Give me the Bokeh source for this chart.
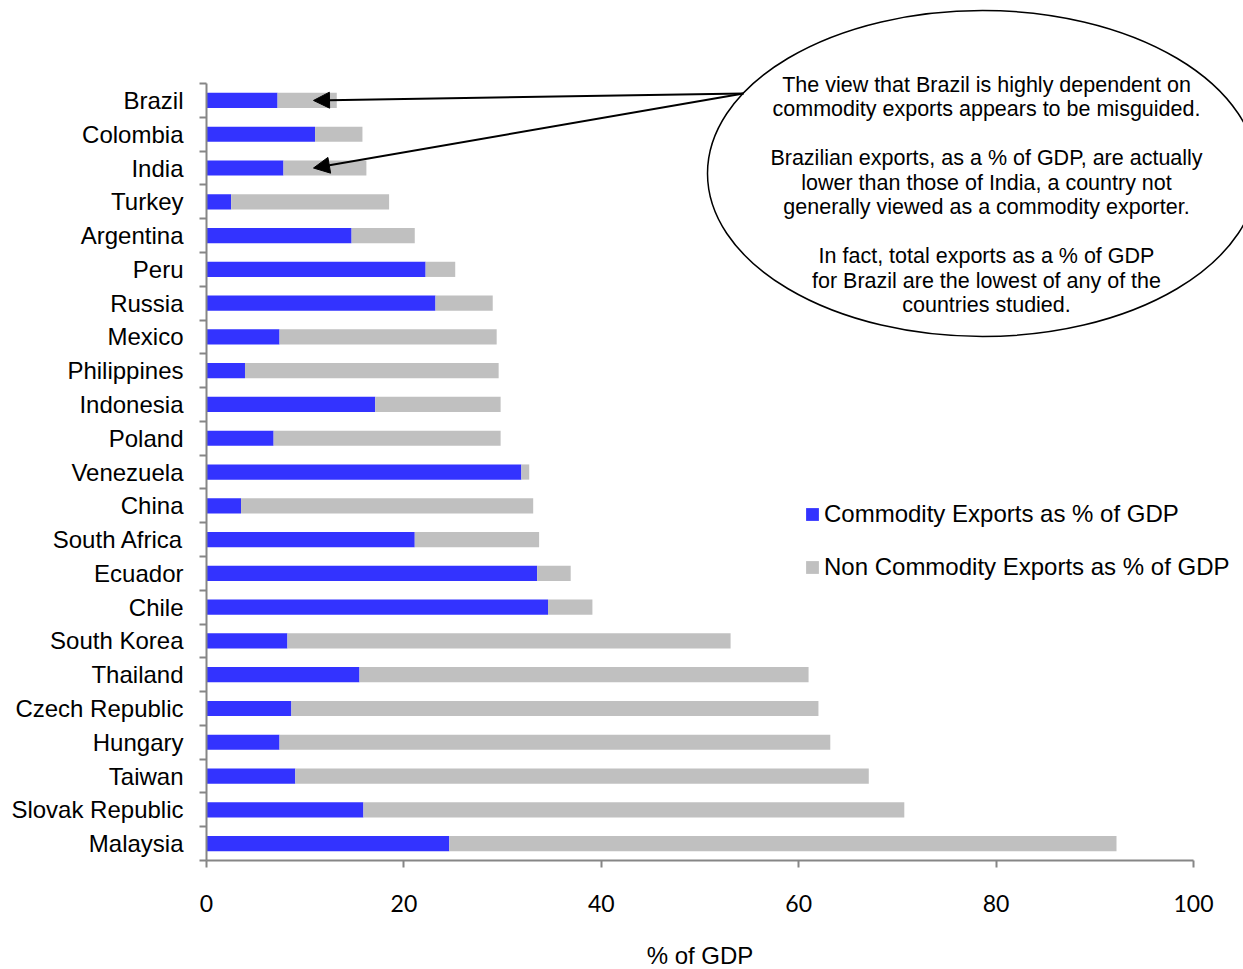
from bokeh.plotting import figure
from bokeh.layouts import column
from bokeh.models import (Range1d, LinearAxis, FixedTicker, Legend, LegendItem,
                          Arrow, NormalHead, ColumnDataSource)
from bokeh.core.properties import value
from bokeh.embed import file_html
from bokeh.resources import INLINE

# ---- data: exports as % of GDP ----
countries = ["Brazil", "Colombia", "India", "Turkey", "Argentina", "Peru", "Russia",
             "Mexico", "Philippines", "Indonesia", "Poland", "Venezuela", "China",
             "South Africa", "Ecuador", "Chile", "South Korea", "Thailand",
             "Czech Republic", "Hungary", "Taiwan", "Slovak Republic", "Malaysia"]
commodity = [7.2, 11.0, 7.8, 2.5, 14.7, 22.2, 23.2, 7.4, 3.9, 17.1, 6.8, 31.9, 3.5,
             21.1, 33.5, 34.6, 8.2, 15.5, 8.6, 7.4, 9.0, 15.9, 24.6]
non_commodity = [6.0, 4.8, 8.4, 16.0, 6.4, 3.0, 5.8, 22.0, 25.7, 12.7, 23.0, 0.8, 29.6,
                 12.6, 3.4, 4.5, 44.9, 45.5, 53.4, 55.8, 58.1, 54.8, 67.6]
x_ticks = [0, 20, 40, 60, 80, 100]

series_names = ["Commodity Exports as % of GDP", "Non Commodity Exports as % of GDP"]
x_title = "% of GDP"
note_lines = [
    "The view that Brazil is highly dependent on",
    "commodity exports appears to be misguided.",
    "",
    "Brazilian exports, as a % of GDP, are actually",
    "lower than those of India, a country not",
    "generally viewed as a commodity exporter.",
    "",
    "In fact, total exports as a % of GDP",
    "for Brazil are the lowest of any of the",
    "countries studied.",
]

# ---- layout (pixels) ----
W, H = 1243, 969
MAIN_H = 930                         # chart panel; a thin strip below holds the x title
LEFT = 206
FRAME_H = 860                        # frame spans canvas top down to the x axis
ROW_PX = 33.78                       # height of one category row
PX_PER_UNIT = 9.87                   # horizontal px per % of GDP
n = len(countries)

x_end = (W - LEFT) / PX_PER_UNIT
y_top = (n - 0.5) - FRAME_H / ROW_PX

BLUE = "#3333FF"
GREY = "#C0C0C0"
AXIS = "#868686"
FONT = "Liberation Sans"

idx = list(range(n))
totals = [c + nc for c, nc in zip(commodity, non_commodity)]
src = ColumnDataSource(dict(y=idx, commodity=commodity, total=totals))

x_range = Range1d(0, x_end)
p = figure(width=W, height=MAIN_H, x_range=x_range,
           y_range=Range1d(start=n - 0.5, end=y_top),
           x_axis_type=None, y_axis_type=None,
           toolbar_location=None, output_backend="svg",
           min_border_left=LEFT, min_border_right=0, min_border_top=0,
           min_border_bottom=MAIN_H - FRAME_H)
p.outline_line_color = None


def px_x(px):
    return (px - LEFT) / PX_PER_UNIT


def px_y(py):
    return (py - (FRAME_H - n * ROW_PX)) / ROW_PX - 0.5


BAR_H = 0.45
r_comm = p.hbar(y="y", left=0, right="commodity", height=BAR_H, source=src,
                fill_color=BLUE, line_color=None)
r_non = p.hbar(y="y", left="commodity", right="total", height=BAR_H, source=src,
               fill_color=GREY, line_color=None)

# ---- axes ----
yaxis = LinearAxis(ticker=FixedTicker(ticks=idx, minor_ticks=[i - 0.5 for i in range(n + 1)]),
                   bounds=(-0.5, n - 0.5),
                   major_label_overrides={i: c for i, c in enumerate(countries)})
yaxis.axis_line_color = AXIS
yaxis.axis_line_width = 2
yaxis.major_tick_line_color = None
yaxis.major_tick_out = 0
yaxis.major_tick_in = 0
yaxis.minor_tick_line_color = AXIS
yaxis.minor_tick_line_width = 2
yaxis.minor_tick_out = 7
yaxis.minor_tick_in = 0
yaxis.major_label_standoff = 16
yaxis.major_label_text_font = FONT
yaxis.major_label_text_font_size = "24px"
yaxis.major_label_text_color = "black"
p.add_layout(yaxis, "left")

xaxis = LinearAxis(ticker=FixedTicker(ticks=x_ticks), bounds=(0, 100))
xaxis.axis_line_color = AXIS
xaxis.axis_line_width = 2
xaxis.major_tick_line_color = AXIS
xaxis.major_tick_line_width = 2
xaxis.major_tick_out = 7
xaxis.major_tick_in = 0
xaxis.minor_tick_line_color = None
xaxis.major_label_standoff = 27
xaxis.major_label_text_font = "Lato"
xaxis.major_label_text_font_size = "23px"
xaxis.major_label_text_color = "black"
p.add_layout(xaxis, "below")

# ---- legend ----
legend = Legend(items=[LegendItem(label=series_names[0], renderers=[r_comm]),
                       LegendItem(label=series_names[1], renderers=[r_non])],
                location=(598, 279), orientation="vertical",
                glyph_width=16, glyph_height=16, label_standoff=4,
                label_height=26, spacing=25, padding=0, margin=0,
                border_line_color=None, background_fill_alpha=0,
                label_text_font=FONT, label_text_font_size="24px",
                label_text_color="black")
p.add_layout(legend, "center")

# ---- callout: arrows into Brazil and India, then the ellipse with the note ----
tail_x, tail_y = px_x(743), px_y(93)
tip_x = px_x(313)
for target in ("Brazil", "India"):
    p.add_layout(Arrow(x_start=tail_x, y_start=tail_y,
                       x_end=tip_x, y_end=countries.index(target),
                       line_color="black", line_width=2,
                       end=NormalHead(size=16, fill_color="black", line_color="black")))

p.ellipse(x=px_x(982), y=px_y(173), width=550, height=326,
          width_units="screen", height_units="screen",
          fill_color="white", line_color="black", line_width=1.5)

NOTE_TOP, NOTE_STEP = 84, 24.55
note_y = [px_y(NOTE_TOP + i * NOTE_STEP) for i in range(len(note_lines))]
p.text(x=[px_x(986)] * len(note_lines), y=note_y, text=note_lines,
       text_align="center", text_baseline="middle",
       text_font=value(FONT), text_font_size="21.5px", text_color="black")

# ---- strip below the chart carrying the x-axis title ----
strip = figure(width=W, height=H - MAIN_H, x_range=x_range, y_range=Range1d(0, 1),
               x_axis_type=None, y_axis_type=None,
               toolbar_location=None, output_backend="svg",
               min_border_left=LEFT, min_border_right=0, min_border_top=0,
               min_border_bottom=0)
strip.outline_line_color = None
strip.text(x=[50], y=[0.36], text=[x_title], text_align="center", text_baseline="middle",
           text_font=value(FONT), text_font_size="24px", text_color="black")

layout = column(p, strip, spacing=0)
open("out.html", "w").write(file_html(layout, INLINE))
